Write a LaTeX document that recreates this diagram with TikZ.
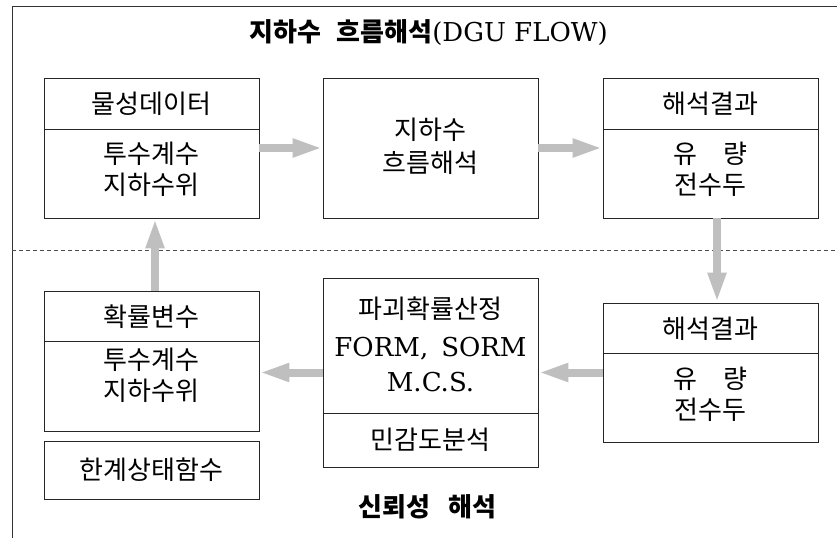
\documentclass[tikz,border=0pt]{standalone}
\usepackage{fontspec}
\setmainfont{DejaVu Serif}
\newfontfamily\kr{Noto Sans CJK KR}
\usetikzlibrary{arrows.meta}

\begin{document}
\begin{tikzpicture}[x=1pt, y=-1pt,
    box/.style={draw=black!85, line width=0.8pt, minimum width=215pt, inner sep=0pt},
    txt/.style={font=\kr\fontsize{26}{31}\selectfont, align=center, inner sep=0pt},
    lat/.style={font=\fontsize{26}{35}\selectfont, align=center, inner sep=0pt},
    ttl/.style={font=\kr\bfseries\fontsize{26}{28}\selectfont, inner sep=0pt},
    flow/.style={line width=8pt, draw=black!25, -{Triangle[length=30pt, width=17pt]}}]
    \useasboundingbox (0,0) rectangle (837,538);

    % 1. Khung va duong phan cach
    \draw[line width=0.9pt, black!80] (12,538) -- (12,6) -- (837,6);
    \draw[black!70, line width=0.7pt, dash pattern=on 4pt off 3pt] (12,250) -- (837,250);

    % 2. Tieu de
    \node[ttl] (top) at (428.5,33) {지하수\hspace{0.6em}흐름해석{\rmfamily\mdseries\fontsize{26}{28}\selectfont(DGU FLOW)}};
    \node[ttl] (bot) at (427.5,507) {신뢰성\hspace{0.7em}해석};

    % 3. Cac hop
    \node[box, minimum height=140pt] (dat) at (151.5,148) {};
    \node[box, minimum height=140pt] (flw) at (430.5,148) {};
    \node[box, minimum height=140pt] (res) at (710.5,148) {};
    \node[box, minimum height=139pt] (res2) at (710.5,372.5) {};
    \node[box, minimum height=189pt] (prb) at (430.5,372.5) {};
    \node[box, minimum height=140pt] (rv) at (151.5,361) {};
    \node[box, minimum height=58pt] (lsf) at (151.5,470) {};
    \foreach \b/\d in {dat/52, res/52, res2/51, prb/136, rv/51} {
        \draw[black!85, line width=0.8pt] ([yshift=-\d pt]\b.north west) -- ([yshift=-\d pt]\b.north east);
    }

    % 4. Chu trong hop
    \node[txt] (datH) at (151.5,104) {물성데이터};
    \node[txt] (datB) at (151.5,169) {투수계수\\지하수위};
    \node[txt, font=\kr\fontsize{26}{33}\selectfont] (flwT) at (430.5,146.5) {지하수\\흐름해석};
    \node[txt] (resH) at (710.5,104) {해석결과};
    \node[txt] (resB) at (710.5,169) {유\hspace{1em}량\\전수두};
    \node[txt] (res2H) at (710.5,328.5) {해석결과};
    \node[txt] (res2B) at (710.5,394) {유\hspace{1em}량\\전수두};
    \node[txt] (prbH) at (430.5,309) {파괴확률산정};
    \node[lat] (prbB) at (430.5,364.5) {FORM,\hspace{0.5em}SORM\\M.C.S.};
    \node[txt] (prbS) at (430.5,440) {민감도분석};
    \node[txt] (rvH) at (151.5,316.5) {확률변수};
    \node[txt] (rvB) at (151.5,375) {투수계수\\지하수위};
    \node[txt] (lsfT) at (151.5,470) {한계상태함수};

    % 5. Mui ten
    \draw[flow] (dat) -- (flw);
    \draw[flow] (flw) -- (res);
    \draw[flow] ([xshift=6.5pt]res.south) -- ([xshift=6.5pt]res2.north);
    \draw[flow] (res2) -- (prb);
    \draw[flow] (prb.west) -- (prb.west -| rv.east);
    \draw[flow] ([xshift=3.5pt]rv.north) -- ([xshift=3.5pt]dat.south);
\end{tikzpicture}
\end{document}
